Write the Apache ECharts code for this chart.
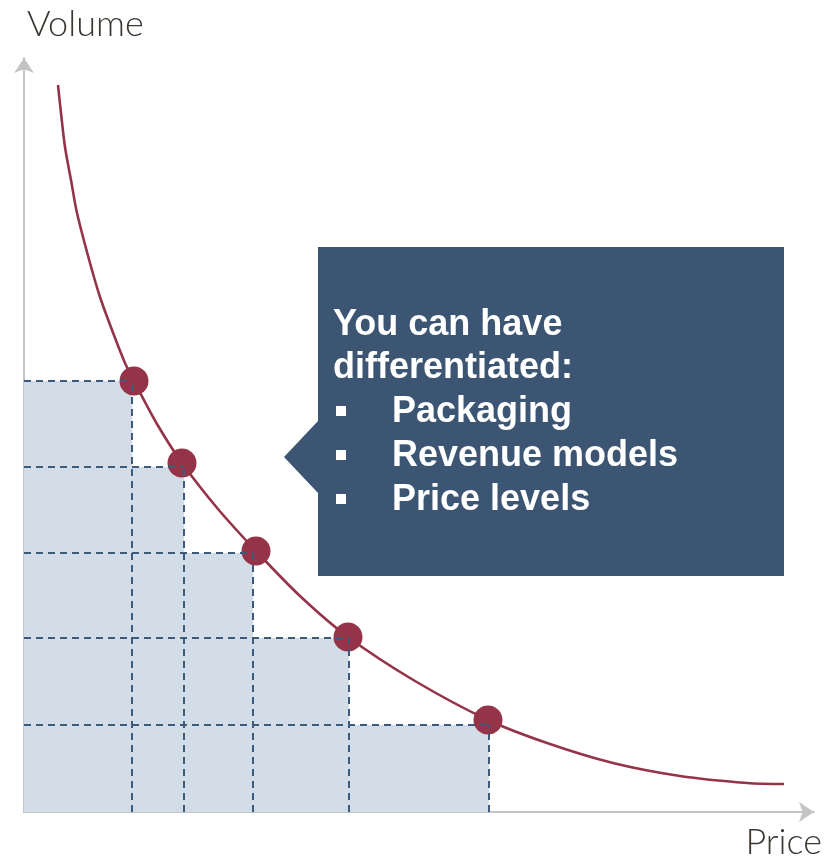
<!DOCTYPE html>
<html>
<head>
<meta charset="utf-8">
<script src="https://cdn.jsdelivr.net/npm/echarts@6/dist/echarts.min.js"></script>
<style>
  html, body { margin: 0; padding: 0; background: #fff; }
  #main { width: 837px; height: 859px; }
</style>
</head>
<body>
<div id="main"></div>
<script>
  // demand curve (price, volume)
  const curveX = [34, 37, 41, 47, 53, 66, 76, 88, 101, 110, 133, 158, 194, 232, 276, 324, 391, 464, 523, 589, 656, 723, 760];
  const curveY = [727, 699, 665, 632, 599, 549, 515, 482, 449, 431, 388, 349, 303, 261, 216, 175, 131, 92, 69, 49, 36, 29, 28];

  // the five price points on the curve
  const dotX = [110, 158, 232, 324, 464];
  const dotY = [431, 349, 261, 175, 92];

  // corners of the shaded steps (dashed lines)
  const stepX = [108, 160, 229, 325, 465];
  const stepY = [431, 345, 259, 174, 87];

  const boxLines = ['You can have', 'differentiated:'];
  const bullets = ['Packaging', 'Revenue models', 'Price levels'];

  const red = '#953449';
  const navy = '#3B5573';
  const dash = '#3E5A7A';

  // data for the step area
  const areaData = [[0, stepY[0]]];
  for (let i = 1; i < stepX.length; i++) {
    areaData.push([stepX[i - 1], stepY[i]]);
  }
  areaData.push([stepX[stepX.length - 1], 0]);

  // dashed lines: horizontal from the axis and vertical from the axis
  const dashLines = [];
  for (let i = 0; i < stepX.length; i++) {
    dashLines.push([{ coord: [0, stepY[i]] }, { coord: [stepX[i], stepY[i]] }]);
    dashLines.push([{ coord: [stepX[i], 0] }, { coord: [stepX[i], stepY[i]] }]);
  }

  // callout text
  const textFont = 'bold 36px "Liberation Sans", Arial, sans-serif';
  const lightFont = '300 36px Lato, "Open Sans", sans-serif';
  const lineCenters = [325, 368.5, 412, 456, 500];
  const graphics = [
    {
      type: 'polygon',
      z: 100,
      shape: {
        points: [[318, 247], [784, 247], [784, 576], [318, 576], [318, 493], [284, 457], [318, 421]]
      },
      style: { fill: navy }
    },
    {
      type: 'text', z: 110, x: 27, y: 24,
      style: { text: 'Volume', font: lightFont, fill: '#3C3631', textVerticalAlign: 'middle' }
    },
    {
      type: 'text', z: 110, x: 822, y: 842,
      style: { text: 'Price', font: lightFont, fill: '#3C3631', textAlign: 'right', textVerticalAlign: 'middle' }
    }
  ];
  boxLines.forEach(function (t, i) {
    graphics.push({
      type: 'text', z: 110, x: 333, y: lineCenters[i],
      style: { text: t, font: textFont, fill: '#fff', textVerticalAlign: 'middle' }
    });
  });
  bullets.forEach(function (t, i) {
    const cy = lineCenters[i + 2];
    graphics.push({
      type: 'rect', z: 110,
      shape: { x: 336, y: cy - 6, width: 10, height: 10 },
      style: { fill: '#fff' }
    });
    graphics.push({
      type: 'text', z: 110, x: 392, y: cy,
      style: { text: t, font: textFont, fill: '#fff', textVerticalAlign: 'middle' }
    });
  });

  const axisStyle = {
    show: true,
    symbol: ['none', 'arrow'],
    symbolSize: [15, 15],
    lineStyle: { color: '#C4C4C4', width: 2 }
  };

  const option = {
    animation: false,
    grid: { left: 24, right: 23, top: 58, bottom: 47 },
    xAxis: {
      type: 'value', min: 0, max: 790,
      axisLine: axisStyle,
      axisTick: { show: false }, axisLabel: { show: false }, splitLine: { show: false }
    },
    yAxis: {
      type: 'value', min: 0, max: 754,
      axisLine: axisStyle,
      axisTick: { show: false }, axisLabel: { show: false }, splitLine: { show: false }
    },
    graphic: graphics,
    series: [
      {
        // shaded steps
        type: 'line',
        step: 'end',
        data: areaData,
        showSymbol: false,
        silent: true,
        lineStyle: { width: 0 },
        areaStyle: { color: '#D3DDE7', opacity: 1 },
        z: 1,
        markLine: {
          silent: true,
          symbol: 'none',
          label: { show: false },
          lineStyle: { color: dash, width: 2, type: [7, 5] },
          data: dashLines
        }
      },
      {
        // demand curve
        type: 'line',
        data: curveX.map(function (x, i) { return [x, curveY[i]]; }),
        smooth: 0.3,
        showSymbol: false,
        lineStyle: { color: red, width: 2.6 },
        z: 3
      },
      {
        type: 'scatter',
        data: dotX.map(function (x, i) { return [x, dotY[i]]; }),
        symbolSize: 29,
        itemStyle: { color: red, opacity: 1 },
        z: 4
      }
    ]
  };

  const myChart = echarts.init(document.getElementById('main'));
  myChart.setOption(option);
</script>
</body>
</html>
